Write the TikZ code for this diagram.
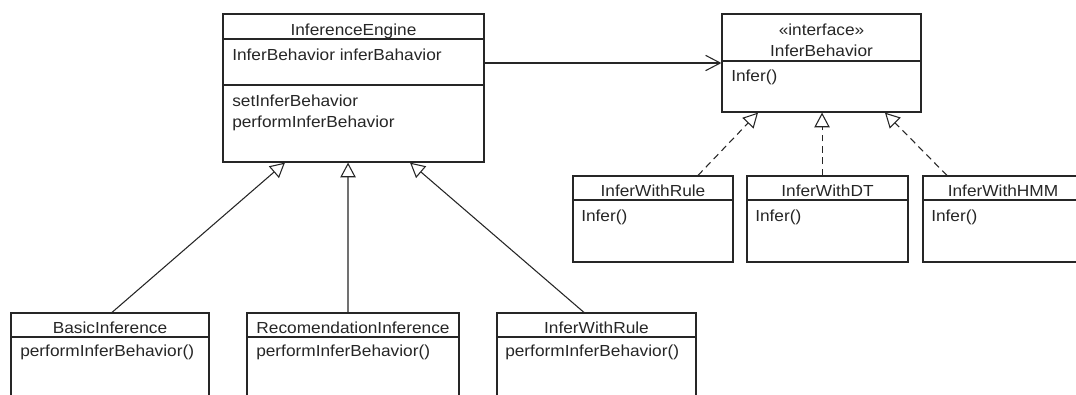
\documentclass[tikz,border=0pt]{standalone}
\usepackage{fontspec}
\setmainfont{Liberation Sans}[FakeStretch=1.08]
\usetikzlibrary{arrows.meta}
\tikzset{
  box/.style={draw=black!85, line width=0.9pt, rectangle, inner sep=0pt, anchor=center},
  sep/.style={draw=black!85, line width=0.9pt},
  txt/.style={inner sep=0pt, anchor=base west, font=\fontsize{12pt}{14pt}\selectfont, text=black!85},
  ctxt/.style={inner sep=0pt, anchor=base, font=\fontsize{12pt}{14pt}\selectfont, text=black!85},
  gen/.style={draw=black!85, line width=0.8pt, -{Triangle[open, length=11pt, width=11.5pt, line width=0.8pt]}},
  real/.style={gen, dash pattern=on 5pt off 3.5pt},
  assoc/.style={draw=black!85, line width=0.8pt, -{Straight Barb[length=11pt, width=11.5pt, line width=0.8pt]}},
}
\begin{document}
\begin{tikzpicture}[x=0.75pt, y=-0.75pt]
\useasboundingbox (0,0) rectangle (1076,394);
\fill[white] (0,0) rectangle (1076,394);
\clip (0,0) rectangle (1076,394);

% InferenceEngine
\node[box, minimum width=195.75pt, minimum height=111pt] (ie) at (353.5,88) {};
\draw[sep] (ie.west |- 0,39) -- (ie.east |- 0,39);
\draw[sep] (ie.west |- 0,85) -- (ie.east |- 0,85);
\node[ctxt] (ieT) at (353.5,35) {InferenceEngine};
\node[txt] (ieA) at (232,60) {InferBehavior inferBahavior};
\node[txt] (ieM1) at (232,106) {setInferBehavior};
\node[txt] (ieM2) at (232,127) {performInferBehavior};

% InferBehavior interface
\node[box, minimum width=149.25pt, minimum height=73.5pt] (ib) at (821.5,63) {};
\draw[sep] (ib.west |- 0,61) -- (ib.east |- 0,61);
\node[ctxt] (ibS) at (821.5,35) {«interface»};
\node[ctxt] (ibT) at (821.5,56) {InferBehavior};
\node[txt] (ibM) at (731,81) {Infer()};

% implementations
\node[box, minimum width=120pt, minimum height=64.5pt] (iwr) at (653,219) {};
\node[box, minimum width=120.75pt, minimum height=64.5pt] (idt) at (827.5,219) {};
\node[box, minimum width=120pt, minimum height=64.5pt] (ihmm) at (1003,219) {};
\draw[sep] (iwr.west |- 0,200) -- (iwr.east |- 0,200);
\draw[sep] (idt.west |- 0,200) -- (idt.east |- 0,200);
\draw[sep] (ihmm.west |- 0,200) -- (ihmm.east |- 0,200);
\node[ctxt] (iwrT) at (653,196) {InferWithRule};
\node[ctxt] (idtT) at (827.5,196) {InferWithDT};
\node[ctxt] (ihmmT) at (1003,196) {InferWithHMM};
\node[txt] (iwrM) at (581,221) {Infer()};
\node[txt] (idtM) at (755,221) {Infer()};
\node[txt] (ihmmM) at (931,221) {Infer()};

% subclasses
\node[box, minimum width=148.5pt, minimum height=80.25pt] (bi) at (110,366.5) {};
\node[box, minimum width=159pt, minimum height=80.25pt] (ri) at (353,366.5) {};
\node[box, minimum width=149.25pt, minimum height=80.25pt] (wr) at (596.5,366.5) {};
\draw[sep] (bi.west |- 0,337) -- (bi.east |- 0,337);
\draw[sep] (ri.west |- 0,337) -- (ri.east |- 0,337);
\draw[sep] (wr.west |- 0,337) -- (wr.east |- 0,337);
\node[ctxt] (biT) at (110,333) {BasicInference};
\node[ctxt] (riT) at (353,333) {RecomendationInference};
\node[ctxt] (wrT) at (596.5,333) {InferWithRule};
\node[txt] (biM) at (20,356) {performInferBehavior()};
\node[txt] (riM) at (256,356) {performInferBehavior()};
\node[txt] (wrM) at (505,356) {performInferBehavior()};

% connectors
\draw[gen] ([xshift=1.5pt]bi.north) -- ([xshift=-51.4pt]ie.south);
\draw[gen] ([xshift=-3.75pt]ri.north) -- ([xshift=-4.1pt]ie.south);
\draw[gen] ([xshift=-9.4pt]wr.north) -- ([xshift=42.4pt]ie.south);
\draw[assoc] ([yshift=18.75pt]ie.east) -- ([yshift=18.75pt]ie.east -| ib.west);
\draw[real] ([xshift=33.75pt]iwr.north) -- ([xshift=-47.6pt]ib.south);
\draw[real] ([xshift=-4.1pt]idt.north) -- ([xshift=0.4pt]ib.south);
\draw[real] ([xshift=-42pt]ihmm.north) -- ([xshift=47.6pt]ib.south);
\end{tikzpicture}
\end{document}
